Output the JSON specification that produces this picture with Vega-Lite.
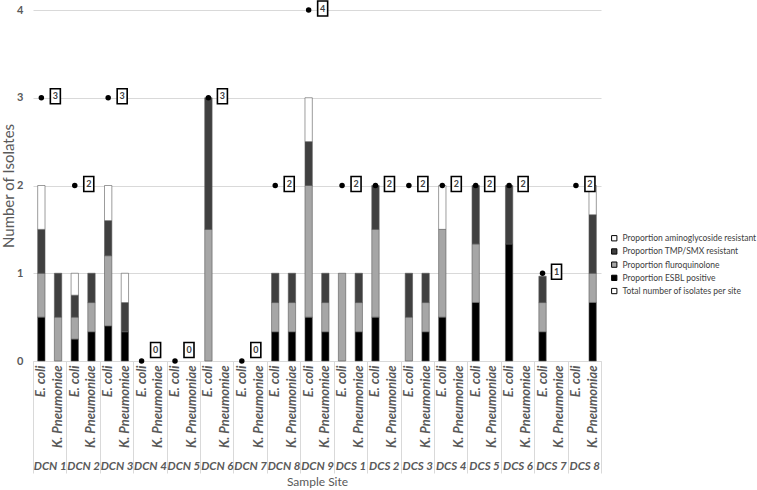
{
  "$schema": "https://vega.github.io/schema/vega-lite/v6.json",
  "width": 568,
  "height": 351,
  "autosize": "none",
  "padding": {"left": 33, "top": 10, "right": 156, "bottom": 129},
  "config": {"font": "Lato", "view": {"stroke": null}},
  "datasets": {
    "bars": [
      {"site": "DCN 1", "organism": "E. coli", "esbl": 0.5, "fq": 0.5, "tmp": 0.5, "ag": 0.5},
      {"site": "DCN 1", "organism": "K. Pneumoniae", "esbl": 0, "fq": 0.5, "tmp": 0.5, "ag": 0},
      {"site": "DCN 2", "organism": "E. coli", "esbl": 0.25, "fq": 0.25, "tmp": 0.25, "ag": 0.25},
      {"site": "DCN 2", "organism": "K. Pneumoniae", "esbl": 0.333, "fq": 0.333, "tmp": 0.334, "ag": 0},
      {"site": "DCN 3", "organism": "E. coli", "esbl": 0.4, "fq": 0.8, "tmp": 0.4, "ag": 0.4},
      {"site": "DCN 3", "organism": "K. Pneumoniae", "esbl": 0.333, "fq": 0, "tmp": 0.333, "ag": 0.334},
      {"site": "DCN 4", "organism": "E. coli", "esbl": 0, "fq": 0, "tmp": 0, "ag": 0},
      {"site": "DCN 4", "organism": "K. Pneumoniae", "esbl": 0, "fq": 0, "tmp": 0, "ag": 0},
      {"site": "DCN 5", "organism": "E. coli", "esbl": 0, "fq": 0, "tmp": 0, "ag": 0},
      {"site": "DCN 5", "organism": "K. Pneumoniae", "esbl": 0, "fq": 0, "tmp": 0, "ag": 0},
      {"site": "DCN 6", "organism": "E. coli", "esbl": 0, "fq": 1.5, "tmp": 1.5, "ag": 0},
      {"site": "DCN 6", "organism": "K. Pneumoniae", "esbl": 0, "fq": 0, "tmp": 0, "ag": 0},
      {"site": "DCN 7", "organism": "E. coli", "esbl": 0, "fq": 0, "tmp": 0, "ag": 0},
      {"site": "DCN 7", "organism": "K. Pneumoniae", "esbl": 0, "fq": 0, "tmp": 0, "ag": 0},
      {"site": "DCN 8", "organism": "E. coli", "esbl": 0.333, "fq": 0.333, "tmp": 0.334, "ag": 0},
      {"site": "DCN 8", "organism": "K. Pneumoniae", "esbl": 0.333, "fq": 0.333, "tmp": 0.334, "ag": 0},
      {"site": "DCN 9", "organism": "E. coli", "esbl": 0.5, "fq": 1.5, "tmp": 0.5, "ag": 0.5},
      {"site": "DCN 9", "organism": "K. Pneumoniae", "esbl": 0.333, "fq": 0.333, "tmp": 0.334, "ag": 0},
      {"site": "DCS 1", "organism": "E. coli", "esbl": 0, "fq": 1, "tmp": 0, "ag": 0},
      {"site": "DCS 1", "organism": "K. Pneumoniae", "esbl": 0.333, "fq": 0.333, "tmp": 0.334, "ag": 0},
      {"site": "DCS 2", "organism": "E. coli", "esbl": 0.5, "fq": 1.0, "tmp": 0.5, "ag": 0},
      {"site": "DCS 2", "organism": "K. Pneumoniae", "esbl": 0, "fq": 0, "tmp": 0, "ag": 0},
      {"site": "DCS 3", "organism": "E. coli", "esbl": 0, "fq": 0.5, "tmp": 0.5, "ag": 0},
      {"site": "DCS 3", "organism": "K. Pneumoniae", "esbl": 0.333, "fq": 0.333, "tmp": 0.334, "ag": 0},
      {"site": "DCS 4", "organism": "E. coli", "esbl": 0.5, "fq": 1.0, "tmp": 0, "ag": 0.5},
      {"site": "DCS 4", "organism": "K. Pneumoniae", "esbl": 0, "fq": 0, "tmp": 0, "ag": 0},
      {"site": "DCS 5", "organism": "E. coli", "esbl": 0.667, "fq": 0.667, "tmp": 0.666, "ag": 0},
      {"site": "DCS 5", "organism": "K. Pneumoniae", "esbl": 0, "fq": 0, "tmp": 0, "ag": 0},
      {"site": "DCS 6", "organism": "E. coli", "esbl": 1.333, "fq": 0, "tmp": 0.667, "ag": 0},
      {"site": "DCS 6", "organism": "K. Pneumoniae", "esbl": 0, "fq": 0, "tmp": 0, "ag": 0},
      {"site": "DCS 7", "organism": "E. coli", "esbl": 0.333, "fq": 0.333, "tmp": 0.3, "ag": 0},
      {"site": "DCS 7", "organism": "K. Pneumoniae", "esbl": 0, "fq": 0, "tmp": 0, "ag": 0},
      {"site": "DCS 8", "organism": "E. coli", "esbl": 0, "fq": 0, "tmp": 0, "ag": 0},
      {"site": "DCS 8", "organism": "K. Pneumoniae", "esbl": 0.667, "fq": 0.333, "tmp": 0.667, "ag": 0.333}
    ],
    "totals": [
      {"site": "DCN 1", "total": 3},
      {"site": "DCN 2", "total": 2},
      {"site": "DCN 3", "total": 3},
      {"site": "DCN 4", "total": 0},
      {"site": "DCN 5", "total": 0},
      {"site": "DCN 6", "total": 3},
      {"site": "DCN 7", "total": 0},
      {"site": "DCN 8", "total": 2},
      {"site": "DCN 9", "total": 4},
      {"site": "DCS 1", "total": 2},
      {"site": "DCS 2", "total": 2},
      {"site": "DCS 3", "total": 2},
      {"site": "DCS 4", "total": 2},
      {"site": "DCS 5", "total": 2},
      {"site": "DCS 6", "total": 2},
      {"site": "DCS 7", "total": 1},
      {"site": "DCS 8", "total": 2}
    ]
  },
  "layer": [
    {
      "data": {"name": "bars"},
      "transform": [
        {"fold": ["esbl", "fq", "tmp", "ag"], "as": ["series", "value"]},
        {"calculate": "datum.site + '|' + datum.organism", "as": "slot"},
        {"calculate": "indexof(['esbl','fq','tmp','ag'], datum.series)", "as": "rank"}
      ],
      "mark": {"type": "bar", "stroke": "#595959", "strokeWidth": 0.6},
      "encoding": {
        "x": {
          "field": "slot", "type": "nominal",
          "scale": {"paddingInner": 0.56, "paddingOuter": 0.28},
          "axis": {
            "title": null, "labelExpr": "split(datum.label, '|')[1]", "labelAngle": -90,
            "ticks": false, "domainColor": "#d9d9d9", "labelFontStyle": "italic",
            "labelFontWeight": "bold", "labelFontSize": 13, "labelColor": "#595959",
            "labelPadding": 4, "labelOverlap": false, "grid": false
          }
        },
        "y": {
          "field": "value", "type": "quantitative", "stack": "zero",
          "scale": {"domain": [0, 4], "nice": false},
          "axis": {
            "title": "Number of Isolates", "values": [0, 1, 2, 3, 4], "format": "d",
            "grid": true, "gridColor": "#d9d9d9", "domain": false, "ticks": false,
            "labelFontWeight": "bold", "labelFontSize": 11, "labelColor": "#595959",
            "labelPadding": 10, "titleFontSize": 15, "titleFontWeight": "normal",
            "titleColor": "#595959", "titlePadding": 0
          }
        },
        "color": {
          "field": "series", "type": "nominal",
          "scale": {"domain": ["ag", "tmp", "fq", "esbl", "total"], "range": ["#ffffff", "#404040", "#a6a6a6", "#000000", "#ffffff"]},
          "legend": {
            "title": null, "orient": "none", "legendX": 577, "legendY": 224,
            "symbolType": "square", "symbolSize": 28, "symbolStrokeColor": "#7f7f7f", "symbolStrokeWidth": 1,
            "labelFontSize": 8.5, "labelColor": "#404040", "labelOffset": 4, "rowPadding": 3.2, "labelLimit": 0,
            "labelExpr": "datum.label == 'ag' ? 'Proportion aminoglycoside resistant' : datum.label == 'tmp' ? 'Proportion TMP/SMX resistant' : datum.label == 'fq' ? 'Proportion fluroquinolone' : datum.label == 'esbl' ? 'Proportion ESBL positive' : 'Total number of isolates per site'"
          }
        },
        "order": {"field": "rank", "type": "quantitative"},
        "strokeOpacity": {"condition": {"test": "datum.value == 0", "value": 0}, "value": 1}
      }
    },
    {
      "data": {"name": "totals"},
      "encoding": {
        "x": {
          "field": "site", "type": "nominal", "bandPosition": 0.25,
          "scale": {"type": "band", "paddingInner": 0, "paddingOuter": 0},
          "axis": {
            "title": "Sample Site", "orient": "bottom", "tickBand": "extent", "ticks": true,
            "tickSize": 112, "tickColor": "#d9d9d9", "tickWidth": 1, "domain": false,
            "labelAngle": 0, "labelFontStyle": "italic", "labelFontWeight": "bold",
            "labelFontSize": 11.5, "labelColor": "#595959", "labelBaseline": "middle",
            "labelPadding": -7, "labelOverlap": false, "titleFontSize": 12,
            "titleFontWeight": "normal", "titleColor": "#595959", "titlePadding": 3, "grid": false
          }
        },
        "y": {"field": "total", "type": "quantitative"}
      },
      "layer": [
        {"mark": {"type": "point", "filled": true, "color": "#000000", "size": 30, "opacity": 1}},
        {
          "transform": [{"filter": "datum.total > 0"}],
          "mark": {"type": "point", "shape": "M-0.667,-1L0.667,-1L0.667,1L-0.667,1Z", "size": 225, "filled": true, "stroke": "#000000", "strokeWidth": 1.6, "xOffset": 14, "yOffset": -1.5, "opacity": 1},
          "encoding": {"color": {"datum": "total"}}
        },
        {
          "transform": [{"filter": "datum.total == 0"}],
          "mark": {"type": "point", "shape": "M-0.667,-1L0.667,-1L0.667,1L-0.667,1Z", "size": 225, "filled": true, "stroke": "#000000", "strokeWidth": 1.6, "xOffset": 14, "yOffset": -11, "opacity": 1},
          "encoding": {"color": {"datum": "total"}}
        },
        {
          "transform": [{"filter": "datum.total > 0"}],
          "mark": {"type": "text", "xOffset": 14, "yOffset": -1.5, "fontSize": 9, "fontWeight": "bold", "color": "#404040"},
          "encoding": {"text": {"field": "total", "type": "quantitative"}}
        },
        {
          "transform": [{"filter": "datum.total == 0"}],
          "mark": {"type": "text", "xOffset": 14, "yOffset": -11, "fontSize": 9, "fontWeight": "bold", "color": "#404040"},
          "encoding": {"text": {"field": "total", "type": "quantitative"}}
        }
      ]
    }
  ],
  "resolve": {"scale": {"x": "independent"}}
}
